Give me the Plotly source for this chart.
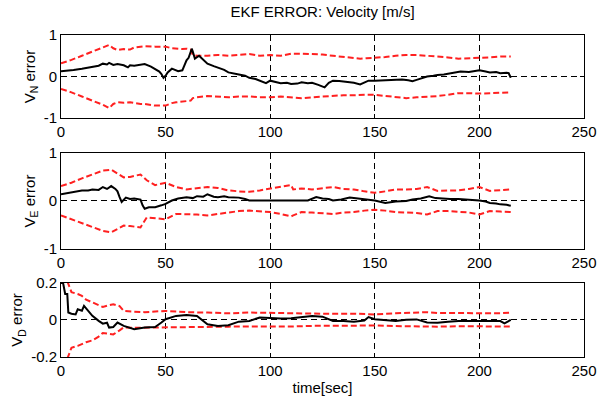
import plotly.graph_objects as go

# ---------------- data ----------------
# North velocity error
t_n = [0, 3, 6, 10, 14, 18, 20, 22, 23, 25,
       27, 30, 32, 33, 35, 38, 40, 43, 45, 47,
       48, 49, 50, 51, 53, 55, 56, 58, 60, 61,
       62, 62.5, 63, 64, 66, 68, 70, 73, 75, 78,
       80, 83, 85, 88, 90, 93, 95, 98, 100, 103,
       105, 108, 110, 113, 115, 118, 120, 123, 126, 128,
       130, 133, 135, 138, 140, 143, 145, 147, 150, 153,
       156, 160, 163, 166, 168, 170, 173, 175, 178, 180,
       183, 186, 188, 191, 195, 198, 200, 203, 205, 208,
       210, 213, 214, 215]
vn_err = [0.13, 0.14, 0.16, 0.19, 0.22, 0.26, 0.31, 0.29, 0.33, 0.28,
          0.30, 0.27, 0.22, 0.27, 0.26, 0.28, 0.30, 0.24, 0.18, 0.12,
          0.06, -0.03, 0.02, 0.10, 0.19, 0.16, 0.13, 0.15, 0.39, 0.45,
          0.59, 0.67, 0.60, 0.43, 0.50, 0.40, 0.31, 0.25, 0.21, 0.16,
          0.10, 0.08, 0.05, 0.02, -0.03, -0.06, -0.10, -0.16, -0.10, -0.13,
          -0.16, -0.15, -0.18, -0.17, -0.14, -0.16, -0.15, -0.20, -0.26, -0.15,
          -0.10, -0.11, -0.12, -0.14, -0.15, -0.19, -0.15, -0.10, -0.10, -0.09,
          -0.08, -0.08, -0.07, -0.09, -0.11, -0.08, -0.04, 0.00, 0.02, 0.04,
          0.05, 0.08, 0.10, 0.12, 0.11, 0.13, 0.15, 0.12, 0.10, 0.11,
          0.08, 0.09, 0.08, -0.03]
t_n_bnd = [0, 5, 10, 15, 20, 23, 25, 27, 30, 33,
           35, 38, 40, 45, 50, 53, 55, 58, 60, 62,
           63, 65, 70, 75, 80, 85, 90, 95, 100, 105,
           110, 115, 120, 125, 130, 135, 140, 143, 146, 150,
           155, 160, 165, 170, 175, 180, 185, 190, 195, 200,
           205, 210, 215]
vn_upper = [0.32, 0.40, 0.50, 0.60, 0.70, 0.76, 0.68, 0.64, 0.66, 0.65,
            0.70, 0.72, 0.73, 0.72, 0.72, 0.68, 0.67, 0.66, 0.67, 0.65,
            0.52, 0.50, 0.50, 0.52, 0.50, 0.52, 0.54, 0.50, 0.52, 0.50,
            0.55, 0.55, 0.54, 0.53, 0.50, 0.47, 0.45, 0.43, 0.44, 0.45,
            0.47, 0.50, 0.52, 0.52, 0.50, 0.49, 0.46, 0.43, 0.44, 0.44,
            0.46, 0.48, 0.48]
vn_lower = [-0.30, -0.38, -0.48, -0.58, -0.68, -0.76, -0.66, -0.62, -0.63, -0.62,
            -0.64, -0.66, -0.66, -0.70, -0.70, -0.64, -0.62, -0.60, -0.60, -0.58,
            -0.52, -0.50, -0.47, -0.48, -0.50, -0.48, -0.48, -0.50, -0.50, -0.48,
            -0.50, -0.52, -0.50, -0.48, -0.46, -0.45, -0.45, -0.44, -0.44, -0.44,
            -0.47, -0.50, -0.52, -0.50, -0.49, -0.47, -0.44, -0.40, -0.40, -0.41,
            -0.40, -0.39, -0.38]

# East velocity error
t_e = [0, 3, 6, 10, 13, 15, 18, 20, 22, 24,
       26, 27, 28, 29, 31, 33, 35, 38, 39, 40,
       42, 45, 48, 50, 53, 56, 60, 63, 65, 68,
       70, 73, 75, 78, 80, 85, 88, 90, 95, 100,
       105, 110, 114, 118, 122, 125, 128, 130, 134, 138,
       142, 146, 150, 155, 160, 165, 168, 172, 176, 179,
       182, 186, 190, 195, 200, 203, 205, 208, 210, 213,
       215]
ve_err = [0.14, 0.16, 0.19, 0.22, 0.22, 0.24, 0.23, 0.29, 0.25, 0.31,
          0.25, 0.20, 0.08, -0.02, 0.07, 0.04, 0.05, 0.03, -0.09, -0.16,
          -0.13, -0.13, -0.09, -0.06, 0.01, 0.05, 0.08, 0.06, 0.10, 0.09,
          0.14, 0.09, 0.08, 0.10, 0.08, 0.07, 0.04, 0.01, 0.01, 0.01,
          0.02, 0.01, 0.02, 0.01, 0.08, 0.05, 0.04, 0.01, 0.03, 0.07,
          0.05, 0.03, 0.01, -0.04, -0.01, 0.00, 0.03, 0.05, 0.10, 0.06,
          0.05, 0.04, 0.04, 0.03, 0.01, -0.01, -0.04, -0.05, -0.07, -0.08,
          -0.10]
t_e_bnd = [0, 5, 10, 15, 20, 24, 27, 30, 33, 35,
           38, 41, 45, 50, 55, 60, 65, 70, 75, 80,
           85, 90, 95, 100, 105, 110, 111, 115, 120, 125,
           130, 135, 140, 145, 150, 155, 160, 165, 170, 175,
           180, 185, 190, 195, 200, 205, 210, 215]
ve_upper = [0.31, 0.38, 0.47, 0.55, 0.63, 0.65, 0.57, 0.49, 0.50, 0.52,
            0.55, 0.43, 0.33, 0.38, 0.29, 0.24, 0.26, 0.29, 0.27, 0.22,
            0.20, 0.19, 0.22, 0.26, 0.30, 0.33, 0.24, 0.26, 0.24, 0.26,
            0.29, 0.25, 0.24, 0.20, 0.17, 0.20, 0.24, 0.24, 0.25, 0.29,
            0.21, 0.22, 0.22, 0.25, 0.29, 0.21, 0.23, 0.24]
ve_lower = [-0.30, -0.38, -0.47, -0.55, -0.62, -0.65, -0.58, -0.51, -0.52, -0.53,
            -0.55, -0.34, -0.36, -0.38, -0.27, -0.27, -0.28, -0.30, -0.27, -0.23,
            -0.21, -0.20, -0.21, -0.23, -0.27, -0.32, -0.30, -0.23, -0.24, -0.25,
            -0.27, -0.24, -0.23, -0.20, -0.18, -0.20, -0.23, -0.24, -0.25, -0.28,
            -0.21, -0.21, -0.22, -0.24, -0.28, -0.21, -0.22, -0.23]

# Down velocity error
t_d = [0, 1, 1.5, 2, 3, 3.5, 5, 7, 8, 10,
       11, 13, 15, 18, 20, 22, 23, 25, 27, 30,
       35, 40, 45, 48, 50, 55, 60, 65, 70, 75,
       80, 85, 90, 95, 100, 105, 110, 115, 120, 125,
       130, 135, 140, 145, 147, 150, 155, 160, 165, 170,
       175, 180, 185, 190, 195, 200, 205, 210, 212, 215]
vd_err = [0.20, 0.20, 0.17, 0.14, 0.14, 0.04, 0.034, 0.03, 0.058, 0.05,
          0.076, 0.049, 0.022, -0.005, -0.02, -0.015, -0.041, -0.038, -0.014, -0.032,
          -0.05, -0.041, -0.038, -0.014, 0.004, 0.022, 0.027, 0.022, -0.023, -0.032,
          -0.028, -0.009, -0.005, 0.013, 0.010, 0.008, 0.009, 0.016, 0.022, 0.018,
          -0.005, -0.006, -0.009, -0.003, 0.016, 0.004, -0.002, -0.005, 0.001, 0.003,
          -0.014, -0.015, -0.010, -0.005, -0.006, -0.005, -0.004, -0.006, -0.018, 0.000]
t_d_bnd = [0, 2, 3, 5, 8, 10, 12, 15, 18, 20,
           23, 25, 28, 30, 35, 40, 50, 60, 70, 80,
           90, 100, 110, 120, 130, 140, 150, 160, 170, 175,
           180, 190, 200, 210, 215]
vd_upper = [0.30, 0.24, 0.20, 0.15, 0.14, 0.13, 0.11, 0.094, 0.08, 0.07,
            0.08, 0.085, 0.075, 0.049, 0.045, 0.042, 0.049, 0.042, 0.040, 0.036,
            0.040, 0.038, 0.035, 0.033, 0.033, 0.034, 0.030, 0.036, 0.038, 0.042,
            0.038, 0.036, 0.035, 0.036, 0.040]
vd_lower = [-0.30, -0.24, -0.20, -0.15, -0.14, -0.13, -0.12, -0.11, -0.09, -0.07,
            -0.075, -0.078, -0.056, -0.04, -0.042, -0.041, -0.040, -0.038, -0.036, -0.036,
            -0.035, -0.036, -0.035, -0.032, -0.030, -0.032, -0.030, -0.033, -0.035, -0.038,
            -0.036, -0.034, -0.033, -0.035, -0.036]

x_ticks = [0, 50, 100, 150, 200, 250]
y_ticks_ne = [-1, 0, 1]
y_ticktext_ne = ["-1", "0", "1"]
y_ticks_d = [-0.2, 0, 0.2]
y_ticktext_d = ["-0.2", "0", "0.2"]

title_text = "EKF ERROR: Velocity [m/s]"
xlabel = "time[sec]"
ylabels = ["V<sub>N</sub> error", "V<sub>E</sub> error", "V<sub>D</sub> error"]

# ---------------- figure ----------------
FONT = "Liberation Sans, Arial, Helvetica, sans-serif"
RED = "#ff2020"
fig = go.Figure()

panels = [
    (t_n, vn_err, t_n_bnd, vn_upper, vn_lower),
    (t_e, ve_err, t_e_bnd, ve_upper, ve_lower),
    (t_d, vd_err, t_d_bnd, vd_upper, vd_lower),
]
for i, (tt, err, tb, up, lo) in enumerate(panels):
    xa = "x" if i == 0 else f"x{i+1}"
    ya = "y" if i == 0 else f"y{i+1}"
    fig.add_trace(go.Scatter(x=tb, y=up, mode="lines", xaxis=xa, yaxis=ya,
                             line=dict(color=RED, width=2, dash="6px,3px"),
                             showlegend=False, hoverinfo="skip"))
    fig.add_trace(go.Scatter(x=tb, y=lo, mode="lines", xaxis=xa, yaxis=ya,
                             line=dict(color=RED, width=2, dash="6px,3px"),
                             showlegend=False, hoverinfo="skip"))
    fig.add_trace(go.Scatter(x=tt, y=err, mode="lines", xaxis=xa, yaxis=ya,
                             line=dict(color="black", width=2),
                             showlegend=False))

domains = [[0.742, 1.0], [0.335, 0.634], [0.0, 0.230]]
common_x = dict(range=[0, 250], tickvals=x_ticks, showline=True, linecolor="black",
                linewidth=1, mirror="ticks", ticks="inside", ticklen=4,
                tickcolor="black", showgrid=True, gridcolor="black", gridwidth=1,
                griddash="6px,4px", zeroline=False, automargin=False,
                tickfont=dict(family=FONT, size=15, color="black"))
common_y = dict(showline=True, linecolor="black", linewidth=1, mirror="ticks",
                ticks="inside", ticklen=4, tickcolor="black", showgrid=True,
                gridcolor="black", gridwidth=1, griddash="6px,4px", zeroline=False,
                automargin=False,
                tickfont=dict(family=FONT, size=15, color="black"))

layout = dict(
    width=598, height=401,
    margin=dict(l=61, r=14, t=35, b=44, autoexpand=False),
    paper_bgcolor="white", plot_bgcolor="white",
    font=dict(family=FONT, color="black"),
    title=dict(text=title_text, x=0.5, xanchor="center", y=0.97, yanchor="middle",
               xref="paper", yref="container",
               font=dict(family=FONT, size=15, color="black")),
)
for i in range(3):
    xk = "xaxis" if i == 0 else f"xaxis{i+1}"
    yk = "yaxis" if i == 0 else f"yaxis{i+1}"
    ax = dict(common_x, anchor="y" if i == 0 else f"y{i+1}")
    if i == 2:
        ax["title"] = dict(text=xlabel, standoff=4, font=dict(family=FONT, size=15))
    layout[xk] = ax
    ay = dict(common_y, domain=domains[i], anchor="x" if i == 0 else f"x{i+1}",
              title=dict(text=ylabels[i], standoff=4, font=dict(family=FONT, size=15)))
    if i < 2:
        ay.update(range=[-1, 1], tickvals=y_ticks_ne, ticktext=y_ticktext_ne)
    else:
        ay.update(range=[-0.2, 0.2], tickvals=y_ticks_d, ticktext=y_ticktext_d)
    layout[yk] = ay

fig.update_layout(**layout)
fig.write_html("out.html",
               config={"displayModeBar": False},
               post_script="document.body.style.margin='0';document.body.style.overflow='hidden';")
